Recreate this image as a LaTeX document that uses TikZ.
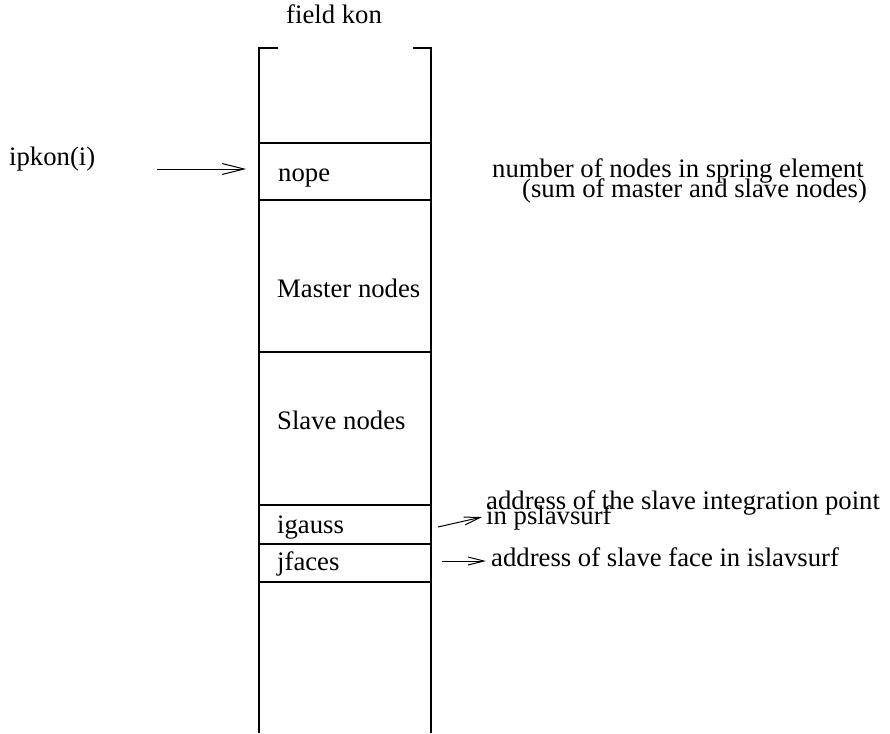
\documentclass[tikz,border=0pt]{standalone}
\usepackage{fontspec}
\setmainfont{Liberation Serif}
\usetikzlibrary{arrows.meta}
\begin{document}
\begin{tikzpicture}[x=1pt,y=-1pt,
  lbl/.style={anchor=base west, inner sep=0pt, font=\fontsize{26.7}{28}\selectfont},
  wall/.style={line width=1.3pt, black},
  sep/.style={line width=1.1pt, black},
  arr/.style={line width=1pt, -{Straight Barb[length=22pt,width=11pt,line width=1pt]}},
  sarr/.style={line width=1pt, -{Straight Barb[length=16pt,width=8pt,line width=1pt]}}]
\useasboundingbox (0,0) rectangle (890,733);
% column
\coordinate (tl) at (259,48);
\coordinate (tr) at (431,48);
\coordinate (bl) at (259,733);
\coordinate (br) at (431,733);
\draw[wall] (278,48) -- (tl) -- (bl);
\draw[wall] (413,48) -- (tr) -- (br);
\foreach \y/\n in {143/s1,200/s2,352/s3,505/s4,544/s5,582/s6}{
  \coordinate (\n l) at (259,\y);
  \coordinate (\n r) at (431,\y);
  \draw[sep] (\n l) -- (\n r);
}
% labels
\node[lbl] (fk) at (286,24) {field kon};
\node[lbl] (ipk) at (9,165) {ipkon(i)};
\node[lbl] (nope) at (278,181) {nope};
\node[lbl] (mast) at (277,297) {Master nodes};
\node[lbl] (slav) at (277,429) {Slave nodes};
\node[lbl] (igs) at (277,533) {igauss};
\node[lbl] (jfc) at (277,570) {jfaces};
\node[lbl] (num1) at (492,177) {number of nodes in spring element};
\node[lbl] (num2) at (522,197) {(sum of master and slave nodes)};
\node[lbl] (adr1) at (486,509) {address of the slave integration point};
\node[lbl] (adr2) at (486,524) {in pslavsurf};
\node[lbl] (adr3) at (491,566) {address of slave face in islavsurf};
% arrows
\coordinate (a1s) at (157,169);
\coordinate (a1e) at (246,169);
\draw[arr] (a1s) -- (a1e);
\coordinate (a2s) at (438,527);
\coordinate (a2e) at (482,517);
\draw[sarr] (a2s) -- (a2e);
\coordinate (a3s) at (442,561);
\coordinate (a3e) at (486,561);
\draw[sarr] (a3s) -- (a3e);
\end{tikzpicture}
\end{document}
